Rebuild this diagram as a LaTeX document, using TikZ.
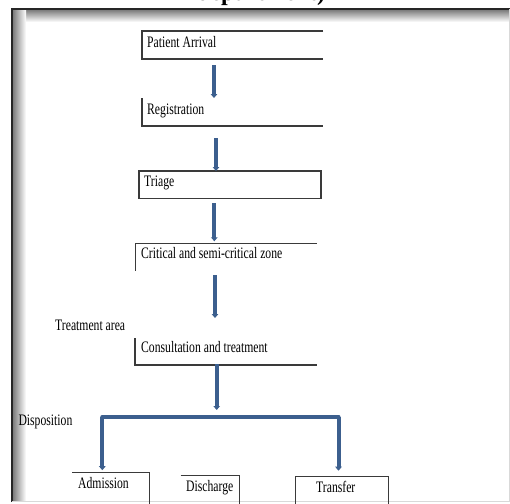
\documentclass[tikz,border=0pt]{standalone}
\usepackage{fontspec}
\usetikzlibrary{arrows.meta}
\newfontfamily\tnr[FakeStretch=0.73]{Liberation Serif}
\newfontfamily\tnrb{Liberation Serif Bold}
\definecolor{arrowblue}{HTML}{3C5F8E}
\definecolor{boxline}{HTML}{3A3A3A}
\tikzset{
  lbl/.style={anchor=base west, inner sep=0pt, font=\tnr\fontsize{16}{16}\selectfont},
  boxarea/.style={anchor=north west, inner sep=0pt, outer sep=0pt, draw=none},
  edge/.style={draw=boxline, line width=1.3pt},
  flow/.style={draw=arrowblue, line width=4pt, -{Triangle[width=6.5pt,length=4pt]}},
  bar/.style={draw=arrowblue, line width=4pt, line cap=round}
}
\begin{document}
\begin{tikzpicture}[x=1pt,y=-1pt]
\useasboundingbox (0,0) rectangle (510,503);
% frame with shadow
\fill[white] (0,0) rectangle (510,503);
\shade[top color=black!55, bottom color=white] (12,9) rectangle (509,22);
\shade[left color=black!55, right color=white] (12,9) rectangle (26,501);
\fill[white] (26,22) rectangle (508,500);
\draw[black!85, line width=2pt] (12,502) -- (12,9) -- (510,9);
\draw[black!15, line width=1pt] (509,9) -- (509,501) -- (12,501);
% clipped title (only its lowest part is inside the picture)
\node[anchor=base west, inner sep=0pt, font=\tnrb\fontsize{24}{24}\selectfont] (title) at (197,0.8) {department)};

% box areas
\node[boxarea, minimum width=181pt, minimum height=28pt] (pa)   at (142,31) {};
\node[boxarea, minimum width=181pt, minimum height=28pt] (reg)  at (142,98) {};
\node[boxarea, minimum width=182pt, minimum height=27.5pt] (tri) at (139,171) {};
\node[boxarea, minimum width=181.5pt, minimum height=27.5pt] (crit) at (135.3,243.3) {};
\node[boxarea, minimum width=182pt, minimum height=27pt] (con)  at (135,338) {};
\node[boxarea, minimum width=77pt, minimum height=31pt] (adm)   at (72.3,472.7) {};
\node[boxarea, minimum width=58.6pt, minimum height=28pt] (dis) at (180.7,475.7) {};
\node[boxarea, minimum width=93pt, minimum height=27pt] (tra)   at (295.3,476.7) {};

% box borders
\draw[edge] (pa.north east) -- (pa.north west) -- (pa.south west) -- (pa.south east);
\draw[edge] (reg.north west) -- (reg.south west) -- (reg.south east);
\draw[edge] (tri.north west) rectangle (tri.south east);
\draw[edge] (crit.south west) -- (crit.north west) -- (crit.north east);
\draw[edge] (con.north west) -- (con.south west) -- (con.south east);
\draw[edge] (adm.north west) -- (adm.north east) -- (adm.south east);
\draw[edge] (dis.north west) -- (dis.north east) -- (dis.south east);
\draw[edge] (tra.south west) -- (tra.north west) -- (tra.north east) -- (tra.south east);

% texts
\node[lbl] (tpa)  at (147,47.5) {Patient Arrival};
\node[lbl] (treg) at (147,114.3) {Registration};
\node[lbl] (ttri) at (144,186) {Triage};
\node[lbl] (tcri) at (141,258.8) {Critical and semi-critical zone};
\node[lbl] (tarea) at (55,330) {Treatment area};
\node[lbl] (tcon) at (141,352.5) {Consultation and treatment};
\node[lbl] (tdisp) at (18.3,425) {Disposition};
\node[lbl] (tadm) at (78,488) {Admission};
\node[lbl] (tdis) at (186,491.5) {Discharge};
\node[lbl] (ttra) at (316,492.5) {Transfer};

% arrows
\coordinate (a1) at (214,65);
\coordinate (a2) at (216,138);
\coordinate (a3) at (214.3,203);
\coordinate (a4) at (215,275);
\coordinate (a4e) at (215,318);
\coordinate (a5) at (216.7,364);
\coordinate (a5e) at (216.7,410);
\coordinate (bl) at (102.3,416.7);
\coordinate (br) at (338.5,416.7);
\draw[flow] (a1) -- (a1 |- reg.north);
\draw[flow] (a2) -- (a2 |- tri.north);
\draw[flow, shorten >=2pt] (a3) -- (a3 |- crit.north);
\draw[flow] (a4) -- (a4e);
\draw[flow] (a5) -- (a5e);
\draw[bar] (bl) -- (br);
\draw[flow, shorten >=2.5pt] (bl) -- (bl |- adm.north);
\draw[flow, shorten >=6pt] (br) -- (br |- tra.north);
\end{tikzpicture}
\end{document}
